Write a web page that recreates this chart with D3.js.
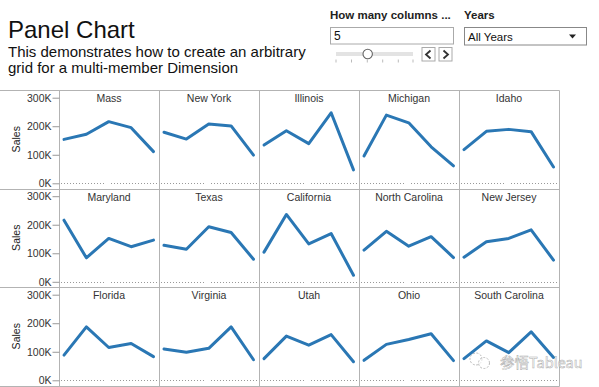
<!DOCTYPE html>
<html><head><meta charset="utf-8">
<script src="https://cdn.jsdelivr.net/npm/d3@7/dist/d3.min.js"></script>
<style>
body{margin:0;background:#fff;}
svg{display:block;font-family:"Liberation Sans",Arial,sans-serif;}
</style></head>
<body><svg id="c" width="599" height="387"></svg>
<script>
const years = ["2009","2010","2011","2012","2013"];
const states = ["Mass","New York","Illinois","Michigan","Idaho",
  "Maryland","Texas","California","North Carolina","New Jersey",
  "Florida","Virginia","Utah","Ohio","South Carolina"];
const sales = [
  [154,172,216,195,111],
  [179,155,208,201,99],
  [134,184,139,247,47],
  [96,239,212,128,61],
  [118,182,189,181,57],
  [216,84,152,123,146],
  [128,114,193,173,79],
  [104,236,133,169,23],
  [111,177,125,158,85],
  [86,140,152,182,76],
  [88,187,115,129,83],
  [110,98,112,187,72],
  [76,155,123,160,65],
  [70,126,143,163,69],
  [76,138,97,170,80]
].map(r=>r.map(v=>v*1000));
const yTicks = [0,100000,200000,300000];
const nCols = 5;

const svg = d3.select("#c");
const gridLeft = 59, panelW = 100, rowTops = [90,188.5,287], rowH = 98.5;
const grey = "#b3b3b3";

// header
svg.append("text").attr("x",8).attr("y",37.5).attr("font-size",24).attr("fill","#111").text("Panel Chart");
svg.append("text").attr("x",8).attr("y",57).attr("font-size",15).attr("fill","#111").text("This demonstrates how to create an arbitrary");
svg.append("text").attr("x",8).attr("y",73).attr("font-size",15).attr("fill","#111").text("grid for a multi-member Dimension");

// controls
svg.append("text").attr("x",330).attr("y",19).attr("font-size",11.5).attr("font-weight","bold").attr("fill","#222").text("How many columns ...");
svg.append("text").attr("x",464).attr("y",19).attr("font-size",11.5).attr("font-weight","bold").attr("fill","#222").text("Years");
svg.append("rect").attr("x",330.5).attr("y",27.5).attr("width",123).attr("height",16.5).attr("fill","#fff").attr("stroke","#aaa");
svg.append("text").attr("x",334).attr("y",40).attr("font-size",12).attr("fill","#111").text(String(nCols));
svg.append("rect").attr("x",464.5).attr("y",27.5).attr("width",122).attr("height",17.5).attr("fill","#fff").attr("stroke","#888");
svg.append("text").attr("x",468).attr("y",40.5).attr("font-size",11.5).attr("fill","#111").text("All Years");
svg.append("path").attr("d","M569,34.5 L576,34.5 L572.5,38.5 Z").attr("fill","#222");
// slider
svg.append("rect").attr("x",336).attr("y",52).attr("width",77).attr("height",4).attr("fill","#e3e3e3");
[336,351.5,367.3,382.7,398.3,413].forEach(x=>svg.append("line").attr("x1",x).attr("x2",x).attr("y1",59.5).attr("y2",62.5).attr("stroke","#bbb"));
svg.append("circle").attr("cx",367.7).attr("cy",54).attr("r",4.7).attr("fill","#fff").attr("stroke","#666").attr("stroke-width",1.1);
[[421.5,"M430.5,50.5 L426,54.5 L430.5,58.5"],[438.5,"M443.5,50.5 L448,54.5 L443.5,58.5"]].forEach(([x,d])=>{
  svg.append("rect").attr("x",x+0.5).attr("y",47.5).attr("width",13).attr("height",13.5).attr("fill","#fff").attr("stroke","#aaa");
  svg.append("path").attr("d",d).attr("fill","none").attr("stroke","#333").attr("stroke-width",1.8);
});

// grid lines
const nRows = rowTops.length;
rowTops.concat([rowTops[nRows-1]+rowH]).forEach(y=>{
  svg.append("line").attr("x1",0).attr("x2",gridLeft+nCols*panelW+0.5).attr("y1",Math.round(y)+0.5).attr("y2",Math.round(y)+0.5).attr("stroke",grey);
});
d3.range(nCols+1).forEach(i=>{
  const x = gridLeft+i*panelW+0.5;
  svg.append("line").attr("x1",x).attr("x2",x).attr("y1",90.5).attr("y2",Math.round(rowTops[nRows-1]+rowH)+0.5).attr("stroke",grey);
});

const x = d3.scalePoint().domain(years).range([5,94.5]);

rowTops.forEach((rt,ri)=>{
  const y = d3.scaleLinear().domain([0,300000]).range([rt+93.3, rt+7.7]);
  const ax = svg.append("g").attr("transform",`translate(${gridLeft+0.5},0)`)
    .call(d3.axisLeft(y).tickValues(yTicks).tickFormat(d=>d/1000+"K").tickSize(7).tickPadding(1));
  ax.select(".domain").remove();
  ax.selectAll(".tick line").attr("stroke","#999");
  ax.selectAll(".tick text").attr("font-size",10.5).attr("fill","#333").attr("font-family","Liberation Sans, Arial, sans-serif");
  svg.append("text").attr("transform",`translate(20,${rt+rowH/2}) rotate(-90)`).attr("text-anchor","middle")
    .attr("font-size",10.5).attr("fill","#222").text("Sales");
  d3.range(nCols).forEach(ci=>{
    const idx = ri*nCols+ci;
    const left = gridLeft+ci*panelW;
    const g = svg.append("g").attr("transform",`translate(${left},0)`);
    const zy = Math.round(y(0))+0.5;
    [[2,47],[52,100]].forEach(([a,b])=>g.append("line").attr("x1",a).attr("x2",b).attr("y1",zy).attr("y2",zy)
      .attr("stroke","#999").attr("stroke-dasharray","1,2"));
    g.append("text").attr("x",50).attr("y",rt+12).attr("text-anchor","middle").attr("font-size",10.5).attr("fill","#333").text(states[idx]);
    g.append("path").datum(sales[idx]).attr("fill","none").attr("stroke","#2a77b4").attr("stroke-width",3)
      .attr("stroke-linejoin","round").attr("stroke-linecap","round")
      .attr("d",d3.line().x((d,i)=>x(years[i])).y(d=>y(d)));
  });
});

// watermark
const wm = svg.append("g").attr("opacity",0.8);
wm.append("circle").attr("cx",476).attr("cy",359).attr("r",6).attr("fill","rgba(255,255,255,0.6)").attr("stroke","#aaa").attr("stroke-dasharray","2,1.5");
wm.append("circle").attr("cx",484).attr("cy",363).attr("r",5.5).attr("fill","rgba(255,255,255,0.6)").attr("stroke","#aaa").attr("stroke-dasharray","2,1.5");
wm.append("text").attr("x",500).attr("y",367.5).attr("font-size",14.5).attr("font-family","Noto Sans CJK SC, Liberation Sans, sans-serif")
  .attr("fill","rgba(255,255,255,0.75)").attr("stroke","#999").attr("stroke-width",0.5).text("参悟Tableau");
</script></body></html>
